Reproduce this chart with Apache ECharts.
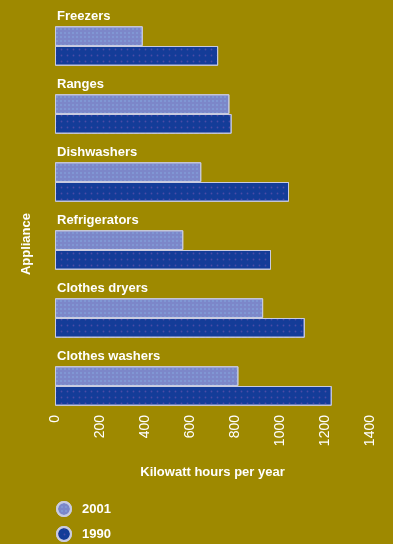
<!DOCTYPE html>
<html>
<head>
<meta charset="utf-8">
<script src="https://cdn.jsdelivr.net/npm/echarts@6/dist/echarts.min.js"></script>
<style>
html,body{margin:0;padding:0;background:#9e8900;}
#chart{width:393px;height:544px;}
</style>
</head>
<body>
<div id="chart"></div>
<script>
var categories = ['Freezers', 'Ranges', 'Dishwashers', 'Refrigerators', 'Clothes dryers', 'Clothes washers'];
var seriesNames = ['2001', '1990'];
var values2001 = [390, 775, 650, 570, 925, 815];
var values1990 = [725, 785, 1040, 960, 1110, 1230];
var xTicks = [0, 200, 400, 600, 800, 1000, 1200, 1400];
var xTitle = 'Kilowatt hours per year';
var yTitle = 'Appliance';

var fontFam = "'Liberation Sans', Arial, sans-serif";
var chart = echarts.init(document.getElementById('chart'));
chart.setOption({
  backgroundColor: '#9e8900',
  animation: false,
  grid: {left: 55, right: 23, top: 12, bottom: 124},
  legend: {
    orient: 'vertical', left: 56, top: 501, itemGap: 9, padding: 0, height: 43,
    itemWidth: 14, itemHeight: 14, icon: 'circle',
    textStyle: {color: '#ffffff', fontWeight: 'bold', fontSize: 13, fontFamily: fontFam, padding: [0, 0, 0, 6]},
    data: seriesNames
  },
  xAxis: {
    type: 'value', min: xTicks[0], max: xTicks[xTicks.length - 1], interval: 200,
    splitLine: {show: false}, axisLine: {show: false}, axisTick: {show: false},
    axisLabel: {rotate: 90, color: '#ffffff', fontSize: 14, fontFamily: fontFam, margin: -5,
      formatter: function (v) { return String(v); }},
    name: xTitle, nameLocation: 'middle', nameGap: 46,
    nameTextStyle: {color: '#ffffff', fontSize: 13, fontWeight: 'bold', fontFamily: fontFam}
  },
  yAxis: {
    type: 'category', data: categories, inverse: true,
    axisLine: {show: false}, axisTick: {show: false}, axisLabel: {show: false}
  },
  graphic: [{
    type: 'text', left: 20, top: 213, rotation: Math.PI / 2,
    style: {text: yTitle, fill: '#ffffff', fontSize: 13, fontWeight: 'bold', fontFamily: fontFam}
  }],
  series: [{
    name: seriesNames[0], type: 'bar', data: values2001, barGap: '0%', barCategoryGap: '42%',
    itemStyle: {
      color: '#7c87c9', borderColor: '#c9cbe0', borderWidth: 1,
      decal: {symbol: 'circle', symbolSize: 0.7, color: 'rgba(140,185,235,0.9)', dashArrayX: [2, 2], dashArrayY: [2, 2]}
    },
    label: {
      show: true, position: [2, -16], formatter: '{b}', color: '#ffffff',
      fontSize: 13, fontWeight: 'bold', fontFamily: fontFam
    }
  }, {
    name: seriesNames[1], type: 'bar', data: values1990, barGap: '0%', barCategoryGap: '42%',
    itemStyle: {
      color: '#143c98', borderColor: '#c9cbe0', borderWidth: 1,
      decal: {symbol: 'circle', symbolSize: 0.6, color: 'rgba(90,80,170,0.8)', dashArrayX: [3, 3], dashArrayY: [3, 3]}
    }
  }]
});
</script>
</body>
</html>
